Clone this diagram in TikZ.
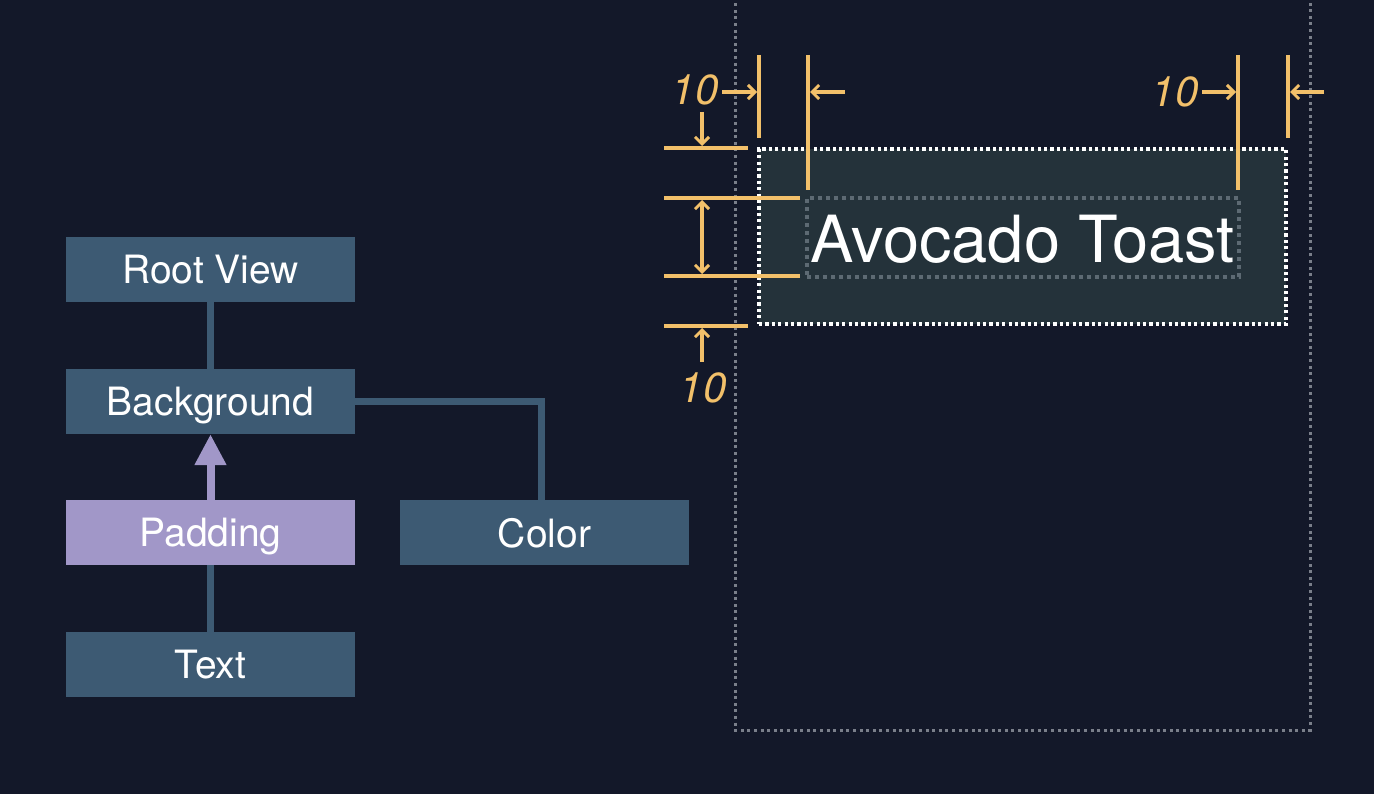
\documentclass[tikz,border=0pt]{standalone}
\usepackage{fontspec}
\setmainfont{TeX Gyre Heros}
\usetikzlibrary{arrows.meta}
\definecolor{bg}{HTML}{131829}
\definecolor{boxblue}{HTML}{3D5A73}
\definecolor{purp}{HTML}{A197C8}
\definecolor{orng}{HTML}{F2C06A}
\definecolor{panel}{HTML}{24323A}
\definecolor{grayd}{HTML}{7A7F8A}
\definecolor{grayi}{HTML}{5D6A73}
\tikzset{
  treebox/.style={fill=boxblue, minimum width=289pt, minimum height=65pt, inner sep=0pt, text=white, font=\fontsize{39}{42}\selectfont, text depth=0pt},
  padbox/.style={treebox, fill=purp},
  link/.style={draw=boxblue, line width=7pt},
  dim/.style={draw=orng, line width=3.1pt},
  dimarrow/.style={dim, -{Straight Barb[length=7pt,width=14pt,line width=2.9pt]}},
  dimboth/.style={dim, {Straight Barb[length=7pt,width=14pt,line width=2.9pt]}-{Straight Barb[length=7pt,width=14pt,line width=2.9pt]}},
  dimlabel/.style={text=orng, font=\fontsize{42}{44}\selectfont\itshape, inner sep=0pt}
}
\begin{document}
\begin{tikzpicture}[x=1pt,y=-1pt]
\fill[bg] (0,0) rectangle (1374,794);
\useasboundingbox (0,0) rectangle (1374,794);

% tree
\node[treebox] (root) at (210.5,269.5) {Root View};
\node[treebox] (bgnd) at (210.5,401.5) {Background};
\node[padbox] (pad) at (210.5,532.5) {Padding};
\node[treebox] (txt) at (210.5,664.5) {Text};
\node[treebox] (col) at (544.5,532.5) {Color};
\draw[link] (root.south) -- (bgnd.north);
\draw[link] (txt.north) -- (pad.south);
\draw[link] (bgnd.east) -| (541,500) coordinate (colin);
\draw[draw=purp, line width=8pt, -{Triangle[length=31pt,width=30pt]}] (pad.north) -- (bgnd.south);

% outer container
\draw[grayd, line width=3pt, dash pattern=on 3pt off 3.6pt] (735,-10) -- (735,730) -- (1310,730) -- (1310,-10);

% background panel
\node[draw=white, fill=panel, line width=3.5pt, dash pattern=on 3.2pt off 3.2pt, minimum width=527pt, minimum height=175pt, inner sep=0pt] (panel) at (1022.5,236.5) {};
\node[draw=grayi, line width=3.5pt, dash pattern=on 4pt off 4pt, minimum width=432pt, minimum height=79pt, inner sep=0pt] (textbox) at (1023,237.5) {};
\node[text=white, font=\fontsize{65}{70}\selectfont, inner sep=0pt] (avo) at (1022.5,239) {Avocado Toast};

% vertical dimension lines
\coordinate (v1t) at (759,55); \coordinate (v1b) at (759,138);
\coordinate (v2t) at (808,55); \coordinate (v2b) at (808,190);
\coordinate (v3t) at (1238,55); \coordinate (v3b) at (1238,190);
\coordinate (v4t) at (1288,55); \coordinate (v4b) at (1288,138);
\draw[dim] (v1t) -- (v1b);
\draw[dim] (v2t) -- (v2b);
\draw[dim] (v3t) -- (v3b);
\draw[dim] (v4t) -- (v4b);

% horizontal dimension lines
\coordinate (h1l) at (664,148); \coordinate (h1r) at (748,148);
\coordinate (h2l) at (664,198); \coordinate (h2r) at (800,198);
\coordinate (h3l) at (664,276); \coordinate (h3r) at (800,276);
\coordinate (h4l) at (664,326); \coordinate (h4r) at (748,326);
\draw[dim] (h1l) -- (h1r);
\draw[dim] (h2l) -- (h2r);
\draw[dim] (h3l) -- (h3r);
\draw[dim] (h4l) -- (h4r);

% arrows
\coordinate (a1s) at (722,92); \coordinate (a1e) at (757,92);
\coordinate (a2s) at (845,92); \coordinate (a2e) at (810,92);
\coordinate (a3s) at (1202,92); \coordinate (a3e) at (1236,92);
\coordinate (a4s) at (1324,92); \coordinate (a4e) at (1290,92);
\draw[dimarrow] (a1s) -- (a1e);
\draw[dimarrow] (a2s) -- (a2e);
\draw[dimarrow] (a3s) -- (a3e);
\draw[dimarrow] (a4s) -- (a4e);
\coordinate (a5s) at (702,112); \coordinate (a5e) at (702,146);
\draw[dimarrow] (a5s) -- (a5e);
\coordinate (a6s) at (702,200); \coordinate (a6e) at (702,274);
\draw[dimboth] (a6s) -- (a6e);
\coordinate (a7s) at (702,362); \coordinate (a7e) at (702,328);
\draw[dimarrow] (a7s) -- (a7e);

% labels
\node[dimlabel] (l1) at (695,90) {10};
\node[dimlabel] (l2) at (1175,92) {10};
\node[dimlabel] (l3) at (703,388) {10};
\end{tikzpicture}
\end{document}
